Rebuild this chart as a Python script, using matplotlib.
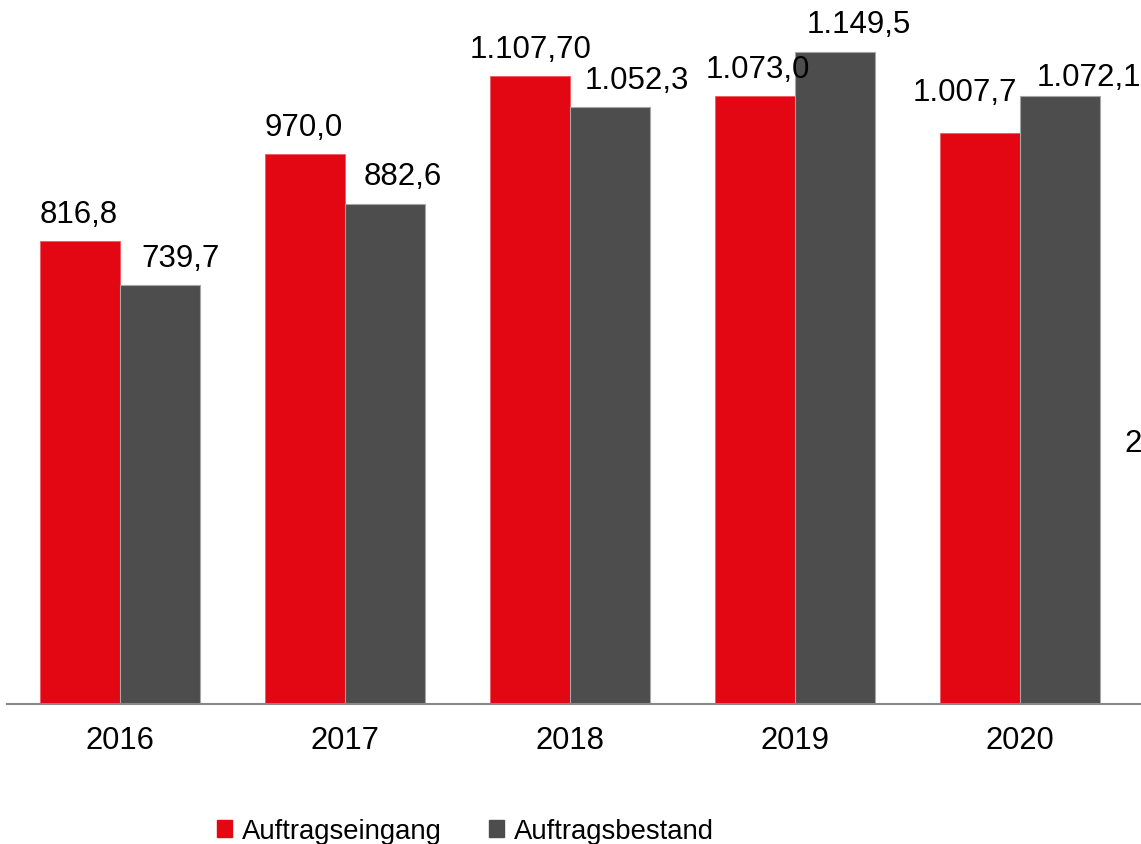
import matplotlib.pyplot as plt
import numpy as np
from matplotlib.patches import Patch

plt.rcParams['font.family'] = ['Liberation Sans', 'DejaVu Sans']

# Daten
jahre = ['2016', '2017', '2018', '2019', '2020']
auftragseingang = [816.8, 970.0, 1107.7, 1073.0, 1007.7]
auftragsbestand = [739.7, 882.6, 1052.3, 1149.5, 1072.1]
labels_eingang = ['816,8', '970,0', '1.107,70', '1.073,0', '1.007,7']
labels_bestand = ['739,7', '882,6', '1.052,3', '1.149,5', '1.072,1']

ROT = '#E30613'
GRAU = '#4D4D4D'

W, H = 1141, 845
fig = plt.figure(figsize=(W / 100, H / 100), dpi=100)
ax = fig.add_axes([7 / W, 140 / H, (W - 7) / W, 705 / H])

x = np.arange(len(jahre))
bw = 80 / 225
b1 = ax.bar(x - bw / 2, auftragseingang, bw, color=ROT, edgecolor='#f05a60', linewidth=0.6)
b2 = ax.bar(x + bw / 2, auftragsbestand, bw, color=GRAU, edgecolor='#a6a6a6', linewidth=0.8)

ax.set_xlim(-0.502, -0.502 + (W - 7) / 225)
ax.set_ylim(0, 705 / 0.5669)

# Beschriftung der Balken (Versatz in Pixel, wie im Original leicht verschoben)
off_eingang = [(-1, 19), (-1, 19), (1, 19), (3, 19), (-15, 33)]
off_bestand = [(21, 19), (18, 20), (27, 19), (24, 20), (29, 11)]
for bars, labs, offs in [(b1, labels_eingang, off_eingang), (b2, labels_bestand, off_bestand)]:
    for r, t, (dx, dy) in zip(bars, labs, offs):
        ax.annotate(t, (r.get_x() + r.get_width() / 2, r.get_height()),
                    xytext=(dx, dy), textcoords='offset pixels',
                    ha='center', va='baseline', fontsize=22.5, color='black')

ax.set_xticks(x)
ax.set_xticklabels(jahre, fontsize=22.3)
ax.tick_params(axis='x', length=0, pad=15)
ax.set_yticks([])
for s in ['top', 'right', 'left']:
    ax.spines[s].set_visible(False)
ax.spines['bottom'].set_color('#888888')
ax.spines['bottom'].set_linewidth(1.5)

handles = [Patch(color=ROT, label='Auftragseingang'), Patch(color=GRAU, label='Auftragsbestand')]
fig.legend(handles=handles, loc='lower left', bbox_to_anchor=(217 / W, 0.0), ncol=2,
           frameon=False, fontsize=19.8, handlelength=0.55, handleheight=0.55,
           handletextpad=0.37, columnspacing=1.7, borderpad=0, borderaxespad=0)

# Text am rechten Rand (im Original angeschnitten)
fig.text(1124 / W, 1 - 452 / H, '2', fontsize=22.5, va='baseline', ha='left')

fig.savefig('out.png', dpi=100)
